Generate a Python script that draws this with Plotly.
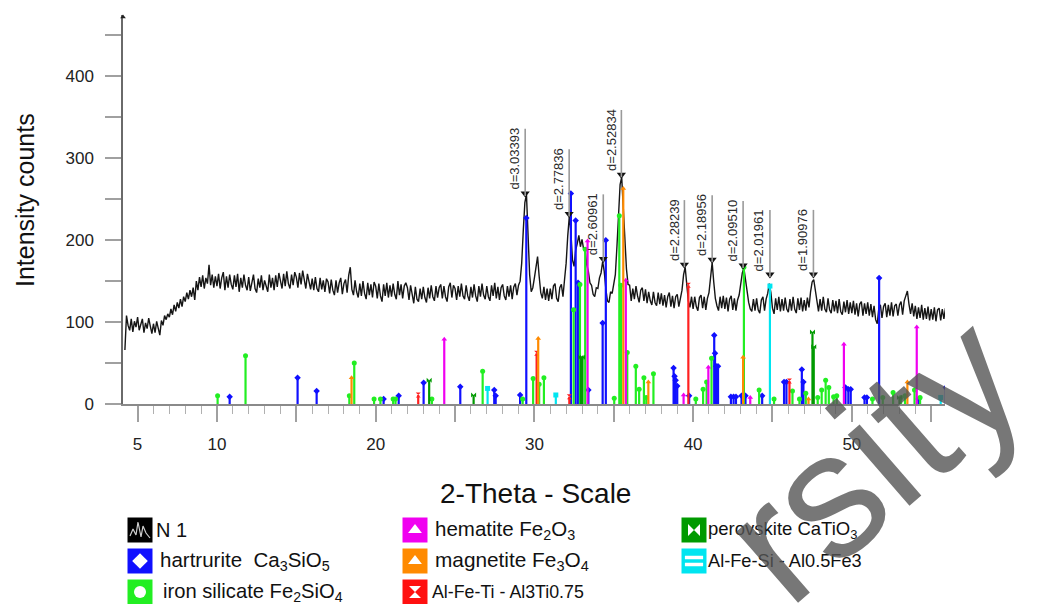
import plotly.graph_objects as go

# ---------------- data ----------------
theta_start = 4.2
theta_step = 0.1
n1_counts = [
    66, 108, 96, 90, 104, 88, 101, 94,
    106, 90, 97, 104, 87, 99, 92, 105, 95, 86,
    98, 87, 101, 93, 84, 102, 96, 108, 103, 110,
    106, 116, 109, 121, 113, 124, 117, 128, 119, 131,
    125, 136, 128, 139, 131, 142, 127, 150, 139, 155,
    143, 157, 141, 154, 147, 170, 145, 158, 142, 156,
    144, 159, 141, 154, 161, 139, 156, 142, 158, 146,
    140, 157, 143, 159, 137, 154, 142, 158, 145, 139,
    155, 138, 151, 158, 141, 136, 153, 142, 157, 139,
    151, 145, 137, 158, 142, 154, 139, 157, 143, 160,
    152, 141, 159, 144, 162, 147, 141, 158, 145, 161,
    155, 142, 160, 146, 163, 149, 141, 159, 147, 140,
    153, 139, 155, 141, 137, 154, 140, 151, 137, 153,
    149, 135, 152, 139, 133, 151, 136, 148, 154, 134,
    147, 152, 136, 157, 167, 140, 133, 151, 137, 130,
    147, 132, 150, 135, 128, 148, 133, 146, 130, 149,
    144, 129, 147, 132, 125, 146, 132, 148, 130, 145,
    131, 147, 134, 128, 150, 133, 146, 129, 144, 148,
    142, 127, 145, 131, 123, 143, 128, 125, 141, 128,
    143, 130, 124, 142, 129, 145, 131, 126, 144, 130,
    142, 146, 129, 144, 131, 125, 143, 148, 130, 145,
    141, 127, 144, 131, 147, 132, 128, 145, 132, 126,
    143, 130, 146, 132, 125, 144, 131, 147, 133, 128,
    144, 131, 126, 145, 132, 148, 129, 143, 127, 142,
    146, 132, 127, 144, 131, 145, 128, 143, 147, 133,
    145, 150, 172, 212, 246, 256, 205, 158, 137, 142,
    154, 171, 180, 156, 136, 129, 143, 127, 141, 126,
    141, 128, 144, 147, 129, 125, 142, 146, 131, 152,
    172, 205, 229, 210, 176, 168, 188, 196, 206, 192,
    201, 189, 187, 170, 162, 148, 145, 134, 131, 142,
    141, 154, 160, 174, 162, 141, 126, 124, 137, 135,
    146, 158, 192, 232, 268, 277, 238, 186, 165, 146,
    145, 126, 141, 128, 144, 132, 124, 139, 142, 126,
    140, 123, 137, 126, 121, 137, 124, 120, 136, 122,
    135, 120, 133, 118, 131, 136, 119, 132, 117, 131,
    134, 119, 131, 139, 158, 167, 146, 126, 118, 131,
    116, 131, 119, 114, 130, 133, 117, 131, 115, 129,
    136, 158, 173, 149, 129, 120, 114, 131, 117, 132,
    116, 130, 113, 128, 132, 115, 129, 114, 127, 133,
    145, 160, 166, 152, 137, 124, 116, 113, 128, 114,
    129, 115, 111, 127, 131, 114, 128, 135, 147, 136,
    117, 110, 129, 115, 131, 113, 128, 114, 130, 116,
    112, 128, 114, 131, 116, 111, 129, 115, 130, 113,
    127, 114, 130, 118, 137, 149, 152, 138, 121, 113,
    128, 114, 131, 116, 112, 129, 115, 111, 127, 113,
    126, 111, 128, 113, 109, 125, 112, 127, 110, 124,
    111, 126, 109, 123, 107, 122, 125, 108, 123, 110,
    124, 108, 122, 106, 120, 103, 98, 117, 121, 105,
    119, 123, 106, 121, 108, 124, 107, 120, 122, 108,
    121, 125, 109, 126, 132, 138, 122, 110, 123, 107,
    120, 104, 118, 105, 121, 103, 117, 104, 119, 102,
    116, 103, 118, 101, 115, 117, 102, 116, 104, 117,
    108,
]

peak_theta = [29.42, 32.19, 34.34, 35.48, 39.45, 41.20, 43.15, 44.84, 47.58]
peak_counts = [254, 229, 174, 277, 167, 173, 166, 155, 155]
peak_labels = ["d=3.03393", "d=2.77836", "d=2.60961", "d=2.52834", "d=2.28239",
               "d=2.18956", "d=2.09510", "d=2.01961", "d=1.90976"]

hart_theta = [10.8, 15.08, 16.28, 20.5, 21.45, 23.02, 25.33, 27.47, 27.56, 29.1,
              29.49, 32.3, 32.6, 32.75, 33.4, 34.3, 34.5, 38.77, 38.83, 38.9,
              39.0, 39.75, 41.33, 41.38, 41.45, 41.57, 42.38, 42.55, 42.7, 43.05,
              43.3, 44.35, 45.73, 45.88, 46.85, 46.95, 49.6, 49.78, 49.93, 50.8,
              50.95, 51.72, 54.2, 55.92]
hart_int = [9, 32, 16, 6, 10, 26, 21, 17, 10, 11,
            227, 257, 224, 148, 17, 99, 200, 44, 34, 29,
            22, 10, 84, 62, 46, 46, 9, 9, 9, 10,
            10, 10, 27, 27, 42, 27, 20, 18, 18, 8,
            8, 154, 6, 20]

fesil_theta = [10.04, 11.8, 18.34, 18.65, 19.9, 20.3, 21.1, 21.25, 23.54, 26.74,
               29.26, 29.92, 30.3, 30.6, 32.47, 32.87, 33.2, 35.03, 35.35, 35.45,
               35.85, 36.39, 36.6, 36.9, 37.05, 37.5, 40.17, 40.63, 40.85, 41.16,
               43.2, 44.16, 45.1, 46.26, 46.7, 47.1, 47.85, 48.1, 48.35, 48.55,
               48.85, 49.05, 51.3, 51.95, 52.6, 53.1, 53.35, 53.95, 54.3]
fesil_int = [10, 59, 10, 50, 6, 6, 6, 6, 6, 40,
             6, 31, 24, 32, 115, 146, 189, 7, 230, 145,
             63, 46, 18, 32, 8, 37, 6, 18, 27, 56,
             167, 17, 6, 16, 6, 13, 8, 17, 29, 20,
             9, 10, 6, 8, 14, 8, 10, 17, 8]

hem_theta = [24.32, 33.35, 35.76, 39.4, 40.96, 43.6, 49.5, 54.09]
hem_int = [79, 199, 151, 11, 45, 8, 73, 94]

mag_theta = [18.48, 30.24, 35.6, 37.18, 43.15, 47.27, 53.5]
mag_int = [32, 80, 263, 27, 57, 6, 27]

alfeti_theta = [22.68, 30.14, 32.2, 39.7, 46.07]
alfeti_int = [11, 62, 9, 145, 28]

perov_theta = [23.37, 26.17, 32.93, 33.03, 47.52, 47.6, 53.0]
perov_int = [29, 11, 57, 57, 88, 70, 8]

alfesi_theta = [27.05, 31.35, 44.84, 55.6]
alfesi_int = [19, 11, 144, 8]

x_tickvals = [5, 10, 15, 20, 25, 30, 35, 40, 45, 50, 55]
x_ticktext = ["5", "10", "", "20", "", "30", "", "40", "", "50", ""]
y_tickvals = [0, 50, 100, 150, 200, 250, 300, 350, 400, 450]
y_ticktext = ["0", "", "100", "", "200", "", "300", "", "400", ""]

legend_names = ["N 1",
                "hartrurite  Ca<sub>3</sub>SiO<sub>5</sub>",
                "iron silicate Fe<sub>2</sub>SiO<sub>4</sub>",
                "hematite Fe<sub>2</sub>O<sub>3</sub>",
                "magnetite Fe<sub>3</sub>O<sub>4</sub>",
                "Al-Fe-Ti - Al3Ti0.75",
                "perovskite CaTiO<sub>3</sub>",
                "Al-Fe-Si - Al0.5Fe3"]

# ---------------- styling ----------------
FONT = "Liberation Sans, Arial, sans-serif"
W, H = 1046, 604
PL, PR, PT, PB = 123, 945, 15, 404   # plot area in pixels

phases = [
    (hart_theta, hart_int, "#1010FF", "diamond"),
    (fesil_theta, fesil_int, "#22EE22", "circle"),
    (perov_theta, perov_int, "#009A00", "bowtie"),
    (alfesi_theta, alfesi_int, "#00E5F0", "square"),
    (alfeti_theta, alfeti_int, "#FF2020", "hourglass"),
    (hem_theta, hem_int, "#F000F0", "triangle-up"),
    (mag_theta, mag_int, "#FF8A00", "triangle-up"),
]

fig = go.Figure()

x_curve = [round(theta_start + i * theta_step, 2) for i in range(len(n1_counts))]
fig.add_trace(go.Scatter(x=x_curve, y=n1_counts, mode="lines",
                         line=dict(color="#151515", width=1.4),
                         hoverinfo="skip", showlegend=False))

for th, it, col, sym in phases:
    xs, ys = [], []
    for t, v in zip(th, it):
        xs += [t, t, None]
        ys += [0, v, None]
    fig.add_trace(go.Scatter(x=xs, y=ys, mode="lines",
                             line=dict(color=col, width=2.2),
                             hoverinfo="skip", showlegend=False))
    fig.add_trace(go.Scatter(x=th, y=it, mode="markers",
                             marker=dict(color=col, symbol=sym, size=5,
                                         line=dict(width=0)),
                             hoverinfo="skip", showlegend=False))

# peak labels
fig.add_trace(go.Scatter(x=peak_theta, y=[c + 3 for c in peak_counts], mode="markers",
                         marker=dict(symbol="triangle-down", color="#111", size=8),
                         hoverinfo="skip", showlegend=False))
shapes = []
annotations = []
for t, c, lab in zip(peak_theta, peak_counts, peak_labels):
    shapes.append(dict(type="line", xref="x", yref="y", x0=t, x1=t, y0=c, y1=c + 82,
                       line=dict(color="#9a9a9a", width=1.6)))
    annotations.append(dict(x=t, y=c + 5, xref="x", yref="y", text=lab, showarrow=False,
                            textangle=-90, xanchor="right", yanchor="bottom", xshift=-1,
                            font=dict(family=FONT, size=13, color="#2a2a2a")))

# small arrow tip at top of the intensity axis
fig.add_trace(go.Scatter(x=[PL], y=[PT + 2], xaxis="x2", yaxis="y2", mode="markers",
                         marker=dict(symbol="triangle-up", size=5, color="#222"),
                         cliponaxis=False, hoverinfo="skip", showlegend=False))

# axis titles (pixel-coordinate axes x2/y2 cover the whole figure)
annotations.append(dict(x=25, y=200, xref="x2", yref="y2",
                        text="Intensity counts", showarrow=False, textangle=-90,
                        xanchor="center", yanchor="middle",
                        font=dict(family=FONT, size=25, color="#111")))
annotations.append(dict(x=535, y=493, xref="x2", yref="y2",
                        text="2-Theta - Scale", showarrow=False,
                        xanchor="center", yanchor="middle",
                        font=dict(family=FONT, size=28, color="#111")))

# custom legend
leg_cols = [140, 415, 694]
leg_rows = [530, 561, 592]
leg_text_x = [156, 160, 163, 435, 435, 432, 708, 708]
leg_font = [20, 20.5, 20.2, 20.5, 20.8, 17.8, 18.5, 18.2]
leg_pos = [(0, 0), (0, 1), (0, 2), (1, 0), (1, 1), (1, 2), (2, 0), (2, 1)]
leg_colors = ["#000000", "#1010FF", "#22EE22", "#F000F0", "#FF8A00", "#FF1010",
              "#009A00", "#00E5F0"]
leg_inner = [None, "diamond", "circle", "triangle-up", "triangle-up", "hourglass",
             "bowtie", "eq"]

sq_x = [leg_cols[c] for c, r in leg_pos]
sq_y = [leg_rows[r] for c, r in leg_pos]
fig.add_trace(go.Scatter(x=sq_x, y=sq_y, xaxis="x2", yaxis="y2", mode="markers",
                         marker=dict(symbol="square", size=25, color=leg_colors,
                                     line=dict(width=0)),
                         cliponaxis=False, hoverinfo="skip", showlegend=False))
for (c, r), sym in zip(leg_pos, leg_inner):
    cx, cy = leg_cols[c], leg_rows[r]
    if sym is None:
        zx = [cx - 10, cx - 7, cx - 4, cx - 2, cx + 1, cx + 3, cx + 6, cx + 10]
        zy = [cy + 6, cy - 1, cy + 5, cy - 8, cy + 7, cy - 4, cy + 3, cy + 8]
        fig.add_trace(go.Scatter(x=zx, y=zy, xaxis="x2", yaxis="y2", mode="lines",
                                 line=dict(color="#d0d0d0", width=1.2),
                                 cliponaxis=False, hoverinfo="skip", showlegend=False))
    elif sym == "eq":
        fig.add_trace(go.Scatter(x=[cx, cx], y=[cy - 3.5, cy + 3.5], xaxis="x2", yaxis="y2",
                                 mode="markers",
                                 marker=dict(symbol="line-ew", size=13,
                                             line=dict(color="white", width=3.5)),
                                 cliponaxis=False, hoverinfo="skip", showlegend=False))
    else:
        fig.add_trace(go.Scatter(x=[cx], y=[cy], xaxis="x2", yaxis="y2", mode="markers",
                                 marker=dict(symbol=sym, size=12, color="white",
                                             line=dict(width=0)),
                                 cliponaxis=False, hoverinfo="skip", showlegend=False))

for tx, fs, (c, r), name in zip(leg_text_x, leg_font, leg_pos, legend_names):
    annotations.append(dict(x=tx, y=leg_rows[r], xref="x2", yref="y2",
                            text=name, showarrow=False, xanchor="left", yanchor="middle",
                            xshift=-2,
                            font=dict(family=FONT, size=fs, color="#111")))

# watermark fragment
annotations.append(dict(x=871, y=457, xref="x2", yref="y2",
                        text="rsity", showarrow=False, textangle=-41,
                        xanchor="center", yanchor="middle",
                        font=dict(family=FONT, size=178, color="rgba(85,85,85,0.8)")))

fig.update_layout(
    width=W, height=H,
    margin=dict(l=0, r=0, t=0, b=0, autoexpand=False),
    plot_bgcolor="rgba(0,0,0,0)", paper_bgcolor="white",
    showlegend=False,
    font=dict(family=FONT, color="#222"),
    shapes=shapes,
    annotations=annotations,
    xaxis=dict(domain=[PL / W, PR / W], anchor="y",
               range=[4.08, 55.87], showgrid=False, zeroline=False,
               showline=True, linecolor="#8a8a8a", linewidth=1.5,
               ticks="outside", tickvals=x_tickvals, ticktext=x_ticktext,
               ticklen=16, tickwidth=1.5, tickcolor="#a0a0a0",
               minor=dict(dtick=1, tick0=0, ticks="outside", ticklen=8,
                          tickwidth=1, tickcolor="#b0b0b0", showgrid=False),
               tickfont=dict(family=FONT, size=17, color="#222"),
               ticklabelstandoff=8, automargin=False),
    yaxis=dict(domain=[1 - PB / H, 1 - PT / H], anchor="x",
               range=[0, 475], showgrid=False, zeroline=False,
               showline=True, linecolor="#6a6a6a", linewidth=1.5,
               ticks="outside", tickvals=y_tickvals, ticktext=y_ticktext,
               ticklen=16, tickwidth=1.5, tickcolor="#a0a0a0",
               tickfont=dict(family=FONT, size=17, color="#222"),
               ticklabelstandoff=8, automargin=False),
    xaxis2=dict(domain=[0, 1], anchor="y2", range=[0, W], visible=False,
                fixedrange=True),
    yaxis2=dict(domain=[0, 1], anchor="x2", range=[H, 0], visible=False,
                fixedrange=True),
)

fig.write_html("out.html", config={"displayModeBar": False},
               post_script="document.body.style.margin='0';")
